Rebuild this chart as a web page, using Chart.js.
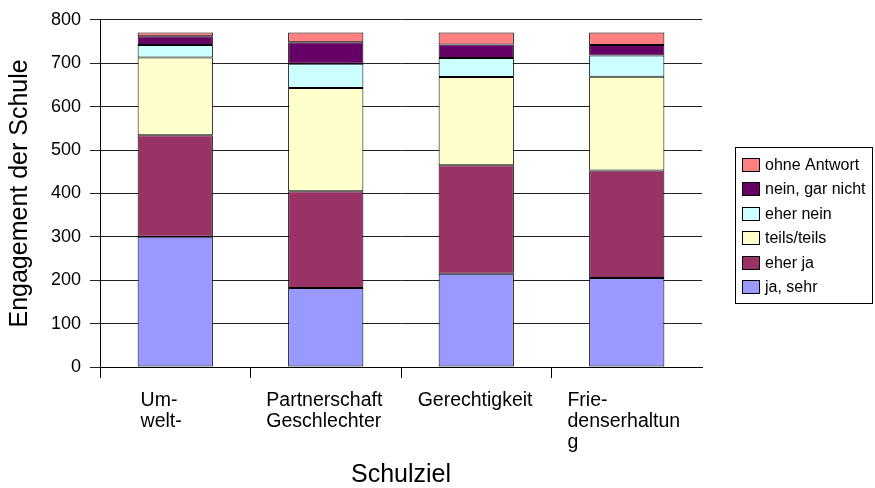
<!DOCTYPE html>
<html>
<head>
<meta charset="utf-8">
<script src="https://cdn.jsdelivr.net/npm/chart.js@4/dist/chart.umd.min.js"></script>
<style>
html,body{margin:0;padding:0;background:#fff;}
#wrap{position:relative;width:875px;height:488px;}
</style>
</head>
<body>
<div id="wrap"><canvas id="c" width="875" height="488"></canvas></div>
<script>
// ---- data ----
const categories = [["Um-", "welt-"], ["Partnerschaft", "Geschlechter"], ["Gerechtigkeit"], ["Frie-", "denserhaltun", "g"]];
const seriesNames = ["ja, sehr", "eher ja", "teils/teils", "eher nein", "nein, gar nicht", "ohne Antwort"];
const jaSehr      = [300, 182, 215, 205];
const eherJa      = [234, 223, 250, 248];
const teilsTeils  = [179, 238, 203, 216];
const eherNein    = [29, 56, 44, 49];
const neinGarNicht= [20, 49, 31, 24];
const ohneAntwort = [9, 23, 28, 29];
const yTickLabels = ["0", "100", "200", "300", "400", "500", "600", "700", "800"];
const yTitle = "Engagement der Schule";
const xTitle = "Schulziel";

const seriesValues = [jaSehr, eherJa, teilsTeils, eherNein, neinGarNicht, ohneAntwort];
const colors = ["#9999FF", "#993366", "#FFFFCC", "#CCFFFF", "#660066", "#FF8080"];
const labelOffsets = [-34.7, -59.4, -58.6, -59.3];

const FONT = "'Liberation Sans', Arial, sans-serif";

const categoryLabels = {
  id: 'categoryLabels',
  afterDraw(chart) {
    const ctx = chart.ctx;
    const xs = chart.scales.x;
    ctx.save();
    ctx.font = "19.5px " + FONT;
    ctx.fillStyle = '#000';
    ctx.textAlign = 'left';
    ctx.textBaseline = 'alphabetic';
    chart.data.labels.forEach((lbl, i) => {
      const x = xs.getPixelForTick(i) + labelOffsets[i];
      const lines = Array.isArray(lbl) ? lbl : [lbl];
      lines.forEach((t, k) => ctx.fillText(t, x, 406 + k * 21));
    });
    ctx.restore();
  }
};

const legendBox = {
  id: 'legendBox',
  afterDraw(chart) {
    const ctx = chart.ctx;
    const x0 = 735, y0 = 147, w = 137, h = 156;
    ctx.save();
    ctx.fillStyle = '#fff';
    ctx.fillRect(x0, y0, w, h);
    ctx.strokeStyle = '#000';
    ctx.lineWidth = 1;
    ctx.strokeRect(x0 + 0.5, y0 + 0.5, w, h);
    ctx.font = "16px " + FONT;
    ctx.textBaseline = 'middle';
    ctx.textAlign = 'left';
    const ds = chart.data.datasets;
    let k = 0;
    for (let i = ds.length - 1; i >= 0; i--) {
      const cy = Math.round(y0 + 18 + k * 24.4);
      ctx.fillStyle = ds[i].backgroundColor;
      ctx.fillRect(742, cy - 7, 18, 14);
      ctx.strokeStyle = '#000';
      ctx.strokeRect(742.5, cy - 6.5, 17, 13);
      ctx.fillStyle = '#000';
      ctx.fillText(ds[i].label, 765, cy + 1);
      k++;
    }
    ctx.restore();
  }
};

new Chart(document.getElementById('c'), {
  type: 'bar',
  data: {
    labels: categories,
    datasets: seriesNames.map((n, i) => ({
      label: n,
      data: seriesValues[i],
      backgroundColor: colors[i],
      borderColor: '#000',
      borderWidth: 1,
      borderSkipped: false,
      categoryPercentage: 1,
      barPercentage: 0.5
    }))
  },
  options: {
    responsive: false,
    animation: false,
    devicePixelRatio: 1,
    layout: { padding: { left: 0, right: 173, top: 17, bottom: 0 } },
    plugins: { legend: { display: false }, tooltip: { enabled: false } },
    scales: {
      x: {
        stacked: true,
        afterFit(s) { s.height = 121; },
        border: { display: true, color: '#000', width: 1 },
        grid: {
          offset: true, drawOnChartArea: false, drawTicks: true, tickLength: 11,
          tickColor: (c) => (c.index === undefined ? 'rgba(0,0,0,0)' : '#000')
        },
        ticks: { display: false },
        title: { display: true, text: xTitle, color: '#000', font: { family: FONT, size: 25, lineHeight: 1 }, padding: { top: 0, bottom: 0 } }
      },
      y: {
        stacked: true,
        min: 0, max: 800,
        afterFit(s) { s.width = 100; },
        border: { display: true, color: '#000', width: 1 },
        grid: { color: '#222', lineWidth: 1, drawTicks: true, tickLength: 10, tickColor: '#222' },
        ticks: {
          stepSize: 50,
          color: '#000',
          padding: 9,
          font: { family: FONT, size: 18 },
          callback: (v) => (v % 100 === 0 ? yTickLabels[v / 100] : '')
        },
        title: { display: true, text: yTitle, color: '#000', font: { family: FONT, size: 25, lineHeight: 1 }, padding: { top: 8, bottom: 0 } }
      }
    }
  },
  plugins: [categoryLabels, legendBox]
});
</script>
</body>
</html>
